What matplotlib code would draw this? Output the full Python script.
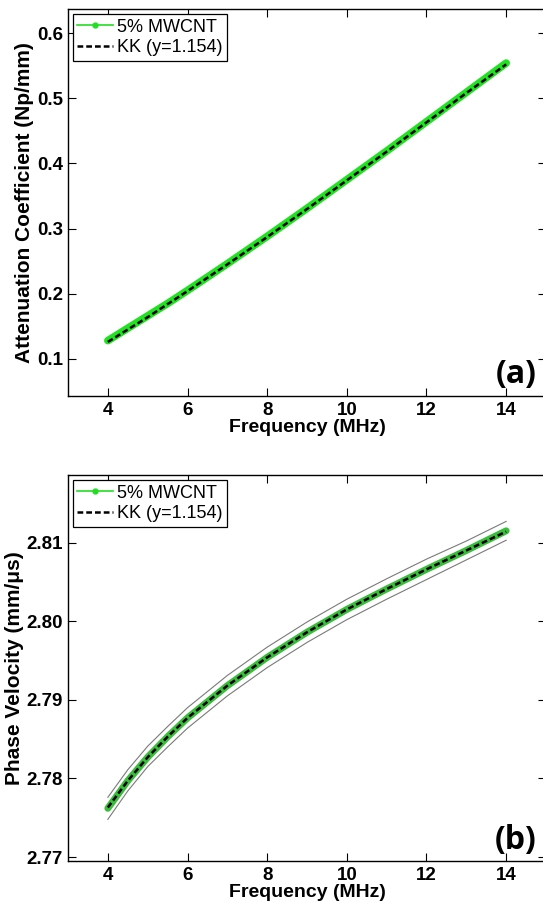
import matplotlib
matplotlib.use("Agg")
from matplotlib import pyplot as plt
from matplotlib.lines import Line2D

plt.rcParams.update({"font.family": ["Liberation Sans", "DejaVu Sans"]})

# frequency grid (MHz)
freq = [4, 4.5, 5, 5.5, 6, 7, 8, 9, 10, 11, 12, 13, 14]

# (a) attenuation coefficient, Np/mm
atten_meas = [0.128, 0.147, 0.166, 0.185, 0.205, 0.246, 0.288, 0.331, 0.375, 0.419, 0.464, 0.509, 0.554]
atten_kk = [0.126, 0.145, 0.164, 0.184, 0.204, 0.245, 0.287, 0.330, 0.374, 0.418, 0.463, 0.508, 0.552]

# (b) phase velocity, mm/us, with upper / lower bounds
vel_meas = [2.7762, 2.7797, 2.7827, 2.7853, 2.7877, 2.7918, 2.7954, 2.7986, 2.8015, 2.8041, 2.8066, 2.8090, 2.8115]
vel_kk = [2.7763, 2.7797, 2.7827, 2.7853, 2.7877, 2.7918, 2.7954, 2.7986, 2.8015, 2.8041, 2.8066, 2.8090, 2.8114]
vel_upper = [2.7776, 2.7811, 2.7841, 2.7866, 2.7890, 2.7931, 2.7967, 2.7999, 2.8028, 2.8054, 2.8079, 2.8102, 2.8127]
vel_lower = [2.7748, 2.7784, 2.7815, 2.7840, 2.7864, 2.7905, 2.7941, 2.7973, 2.8002, 2.8028, 2.8053, 2.8078, 2.8103]

xticks = [4, 6, 8, 10, 12, 14]
atten_ticks = [0.1, 0.2, 0.3, 0.4, 0.5, 0.6]
vel_ticks = [2.77, 2.78, 2.79, 2.80, 2.81]

W, H = 543, 909
fig = plt.figure(figsize=(W / 100, H / 100), dpi=100)


def box(left, top, right, bottom):
    return [left / W, 1 - bottom / H, (right - left) / W, (bottom - top) / H]


def style(ax):
    ax.tick_params(direction="in", top=True, right=True, length=5.5, width=0.8,
                   labelsize=13.5, pad=3.5)
    ax.tick_params(axis="x", pad=4)
    for lab in ax.get_xticklabels() + ax.get_yticklabels():
        lab.set_fontweight("bold")
    for sp in ax.spines.values():
        sp.set_linewidth(1.0)
    ax.set_xlabel("Frequency (MHz)", fontsize=14, fontweight="bold", labelpad=0)


def legend(ax):
    handles = [
        Line2D([0, 0.5, 1], [0, 0, 0], color="#22dd22", lw=1.2, marker="o",
               markersize=3.5, markevery=[1], label="5% MWCNT"),
        Line2D([], [], color="black", lw=1.8, dashes=(2.3, 1.2), label="KK (y=1.154)"),
    ]
    ax.legend(handles=handles, loc="upper left", bbox_to_anchor=(0.01, 0.987),
              borderaxespad=0, fontsize=13, frameon=True, fancybox=False,
              edgecolor="black", framealpha=1, handlelength=2.0, handletextpad=0.2,
              labelspacing=0.2, borderpad=0.25)
    ax.get_legend().get_frame().set_linewidth(0.9)


# (a)
ax1 = fig.add_axes(box(68, 9, 546, 396))
ax1.plot(freq, atten_meas, "-", color="#22e022", lw=5.5, solid_capstyle="round")
ax1.plot(freq, atten_kk, color="black", lw=1.8, dashes=(2.3, 1.2))
ax1.set_xlim(3, 15)
ax1.set_ylim(0.043, 0.637)
ax1.set_xticks(xticks)
ax1.set_yticks(atten_ticks)
ax1.set_yticklabels(["%.1f" % t for t in atten_ticks])
ax1.set_ylabel("Attenuation Coefficient (Np/mm)", fontsize=15, fontweight="bold",
               labelpad=2)
style(ax1)
legend(ax1)
ax1.text(0.98, 0.055, "(a)", transform=ax1.transAxes, ha="right", va="center",
         fontsize=23, fontweight="bold", family="Open Sans")

# (b)
ax2 = fig.add_axes(box(68, 475, 546, 861))
ax2.plot(freq, vel_upper, color="#7a7a7a", lw=0.8)
ax2.plot(freq, vel_lower, color="#7a7a7a", lw=0.8)
ax2.plot(freq, vel_meas, "-", color="#3cbc3c", lw=5.0, solid_capstyle="round")
ax2.plot(freq, vel_kk, color="black", lw=1.8, dashes=(2.3, 1.2))
ax2.set_xlim(3, 15)
ax2.set_ylim(2.7695, 2.8186)
ax2.set_xticks(xticks)
ax2.set_yticks(vel_ticks)
ax2.set_yticklabels(["%.2f" % t for t in vel_ticks])
ax2.set_ylabel("Phase Velocity (mm/μs)", fontsize=15, fontweight="bold", labelpad=2)
style(ax2)
legend(ax2)
ax2.text(0.98, 0.052, "(b)", transform=ax2.transAxes, ha="right", va="center",
         fontsize=23, fontweight="bold", family="Open Sans")

fig.savefig("out.png", dpi=100)
